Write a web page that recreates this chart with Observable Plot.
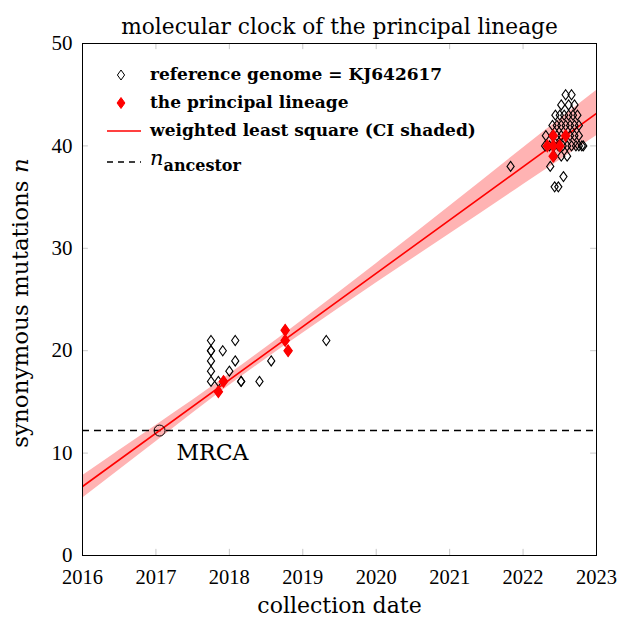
<!DOCTYPE html>
<html><head><meta charset="utf-8">
<script src="https://cdn.jsdelivr.net/npm/d3@7"></script>
<script src="https://cdn.jsdelivr.net/npm/@observablehq/plot@0.6"></script>
<style>body{margin:0;background:#fff} svg{display:block}</style>
</head><body><div id="chart"></div>
<script>
const FONT = "DejaVu Serif";
const NUMFONT = "Liberation Serif";
const titleText = "molecular clock of the principal lineage";
const xLabel = "collection date";
const yLabel = "synonymous mutations ";
const xTicks = [2016, 2017, 2018, 2019, 2020, 2021, 2022, 2023];
const yTicks = [0, 10, 20, 30, 40, 50];

// reference genome = KJ642617 (open black diamonds)
const refDate = [
  2017.75, 2017.75, 2017.75, 2017.75, 2017.75, 2017.75,
  2017.85, 2017.85, 2017.91, 2017.92, 2018.00, 2018.08, 2018.08, 2018.16, 2018.16,
  2018.41, 2018.57, 2018.76, 2018.76, 2018.80, 2019.32, 2021.83,
  2022.58, 2022.66,
  2022.52, 2022.62, 2022.70,
  2022.44, 2022.50, 2022.56, 2022.62, 2022.68, 2022.74,
  2022.40, 2022.46, 2022.52, 2022.58, 2022.64, 2022.70, 2022.76,
  2022.31, 2022.40, 2022.46, 2022.52, 2022.58, 2022.64, 2022.70, 2022.76,
  2022.30, 2022.36, 2022.42, 2022.48, 2022.54, 2022.60, 2022.66, 2022.72, 2022.76, 2022.80, 2022.82,
  2022.42, 2022.52, 2022.60,
  2022.37, 2022.55, 2022.43, 2022.48
];
const refN = [
  21, 20, 20, 19, 18, 17,
  17, 16, 20, 17, 18, 21, 19, 17, 17,
  17, 19, 22, 21, 20, 21, 38,
  45, 45,
  44, 44, 44,
  43, 43, 43, 43, 43, 43,
  42, 42, 42, 42, 42, 42, 42,
  41, 41, 41, 41, 41, 41, 41, 41,
  40, 40, 40, 40, 40, 40, 40, 40, 40, 40, 40,
  39, 39, 39,
  38, 37, 36, 36
];

// the principal lineage (filled red diamonds)
const linDate = [2017.85, 2017.92, 2018.76, 2018.76, 2018.80, 2022.33, 2022.41, 2022.50, 2022.41, 2022.58, 2022.41];
const linN    = [16, 17, 22, 21, 20, 40, 40, 40, 41, 41, 39];

// weighted least square fit and its confidence band
const fitDate = [2016, 2023];
const fitN = [6.74, 43.17];
const bandDate = [2016, 2017, 2018, 2019, 2020, 2021, 2022, 2023];
const bandLo = [5.6, 11.1, 16.6, 21.7, 26.6, 31.4, 36.2, 41.0];
const bandHi = [7.8, 12.7, 17.7, 23.0, 28.5, 34.1, 39.8, 45.4];

// MRCA / ancestor
const nAncestor = 12.2;
const mrcaDate = 2017.05;
const mrcaLabel = "MRCA";
const mrcaLabelDate = 2017.77;
const mrcaLabelN = 10.05;

const legendLabels = ["reference genome = KJ642617", "the principal lineage", "weighted least square (CI shaded)", "ancestor"];

const refData = refDate.map((t, i) => ({t, n: refN[i]}));
const linData = linDate.map((t, i) => ({t, n: linN[i]}));
const fitData = fitDate.map((t, i) => ({t, n: fitN[i]}));
const bandData = bandDate.map((t, i) => ({t, lo: bandLo[i], hi: bandHi[i]}));

const diamond = {draw(ctx, size) {
  const h = Math.sqrt(size / Math.PI);
  const w = h * 0.72;
  ctx.moveTo(0, -h); ctx.lineTo(w, 0); ctx.lineTo(0, h); ctx.lineTo(-w, 0); ctx.closePath();
}};

const innerX = xTicks.slice(1, -1), innerY = yTicks.slice(1, -1);
const tickGray = "#c8c8c8";

const plot = Plot.plot({
  width: 617, height: 622,
  marginTop: 43, marginLeft: 82, marginRight: 21, marginBottom: 67,
  style: {fontFamily: FONT, fontSize: "20px", background: "white", overflow: "visible", color: "black"},
  x: {domain: [2016, 2023]},
  y: {domain: [0, 50]},
  marks: [
    Plot.areaY(bandData, {x: "t", y1: "lo", y2: "hi", fill: "#ffb3b3", curve: "natural", clip: true}),
    Plot.ruleX(innerX, {x: d => d, y1: 0, y2: 0.6, stroke: tickGray}),
    Plot.ruleX(innerX, {x: d => d, y1: 50, y2: 49.4, stroke: tickGray}),
    Plot.ruleY(innerY, {y: d => d, x1: 2016, x2: 2016.08, stroke: tickGray}),
    Plot.ruleY(innerY, {y: d => d, x1: 2023, x2: 2022.92, stroke: tickGray}),
    Plot.ruleY([nAncestor], {stroke: "black", strokeWidth: 1.4, strokeDasharray: "7 5"}),
    Plot.line(fitData, {x: "t", y: "n", stroke: "red", strokeWidth: 1.6, clip: true}),
    Plot.dot(refData, {x: "t", y: "n", symbol: diamond, r: 5, stroke: "black", strokeWidth: 1.1, fill: "none"}),
    Plot.dot(linData, {x: "t", y: "n", symbol: diamond, r: 5.5, stroke: "red", fill: "red"}),
    Plot.dot([mrcaDate], {x: d => d, y: nAncestor, r: 5.5, stroke: "black", strokeWidth: 1, fill: "none"}),
    Plot.text([mrcaLabel], {x: mrcaLabelDate, y: mrcaLabelN, text: d => d, fontSize: 22, fill: "black"}),
    Plot.frame({stroke: "black", strokeWidth: 1}),
    Plot.axisX({ticks: xTicks, tickSize: 0, tickPadding: 14, tickFormat: d => String(d), label: null, fontSize: 20.5, fontFamily: NUMFONT}),
    Plot.axisY({ticks: yTicks, tickSize: 0, tickPadding: 10, label: null, fontSize: 21, fontFamily: NUMFONT}),
    Plot.text([titleText], {frameAnchor: "top", dy: -25, text: d => d, fontSize: 21.7}),
    Plot.text([xLabel], {frameAnchor: "bottom", dy: 57, text: d => d, fontSize: 22})
  ]
});
document.getElementById("chart").appendChild(plot);

const svg = d3.select(plot);
// y label
const yl = svg.append("text").attr("transform", "translate(22,303) rotate(-90)")
  .attr("text-anchor", "middle").attr("dominant-baseline", "middle")
  .attr("font-family", FONT).attr("font-size", 23).attr("fill", "black");
yl.append("tspan").text(yLabel);
yl.append("tspan").attr("font-style", "italic").text("n");

// legend
const lg = svg.append("g").attr("font-family", FONT).attr("fill", "black").attr("text-anchor", "start");
const rows = [75, 103, 131, 162];
lg.append("path").attr("d", d3.symbol().type(diamond).size(Math.PI * 25)()).attr("transform", `translate(121,${rows[0]})`).attr("fill", "none").attr("stroke", "black");
lg.append("path").attr("d", d3.symbol().type(diamond).size(Math.PI * 30)()).attr("transform", `translate(121,${rows[1]})`).attr("fill", "red").attr("stroke", "red");
lg.append("line").attr("x1", 107).attr("x2", 141).attr("y1", rows[2]).attr("y2", rows[2]).attr("stroke", "red").attr("stroke-width", 1.6);
lg.append("line").attr("x1", 107).attr("x2", 141).attr("y1", rows[3]).attr("y2", rows[3]).attr("stroke", "black").attr("stroke-width", 1.4).attr("stroke-dasharray", "6 5");
legendLabels.slice(0, 3).forEach((s, i) => {
  lg.append("text").attr("x", 150).attr("y", rows[i]).attr("dominant-baseline", "middle").attr("text-anchor", "start")
    .attr("font-size", 17).attr("font-weight", "bold").text(s);
});
const an = lg.append("text").attr("x", 150).attr("y", rows[3]).attr("dominant-baseline", "middle").attr("text-anchor", "start");
an.append("tspan").attr("font-style", "italic").attr("font-size", 21).attr("dy", -3).text("n");
an.append("tspan").attr("font-size", 16).attr("font-weight", "bold").attr("dy", 7).text(legendLabels[3]);
</script>
</body></html>
